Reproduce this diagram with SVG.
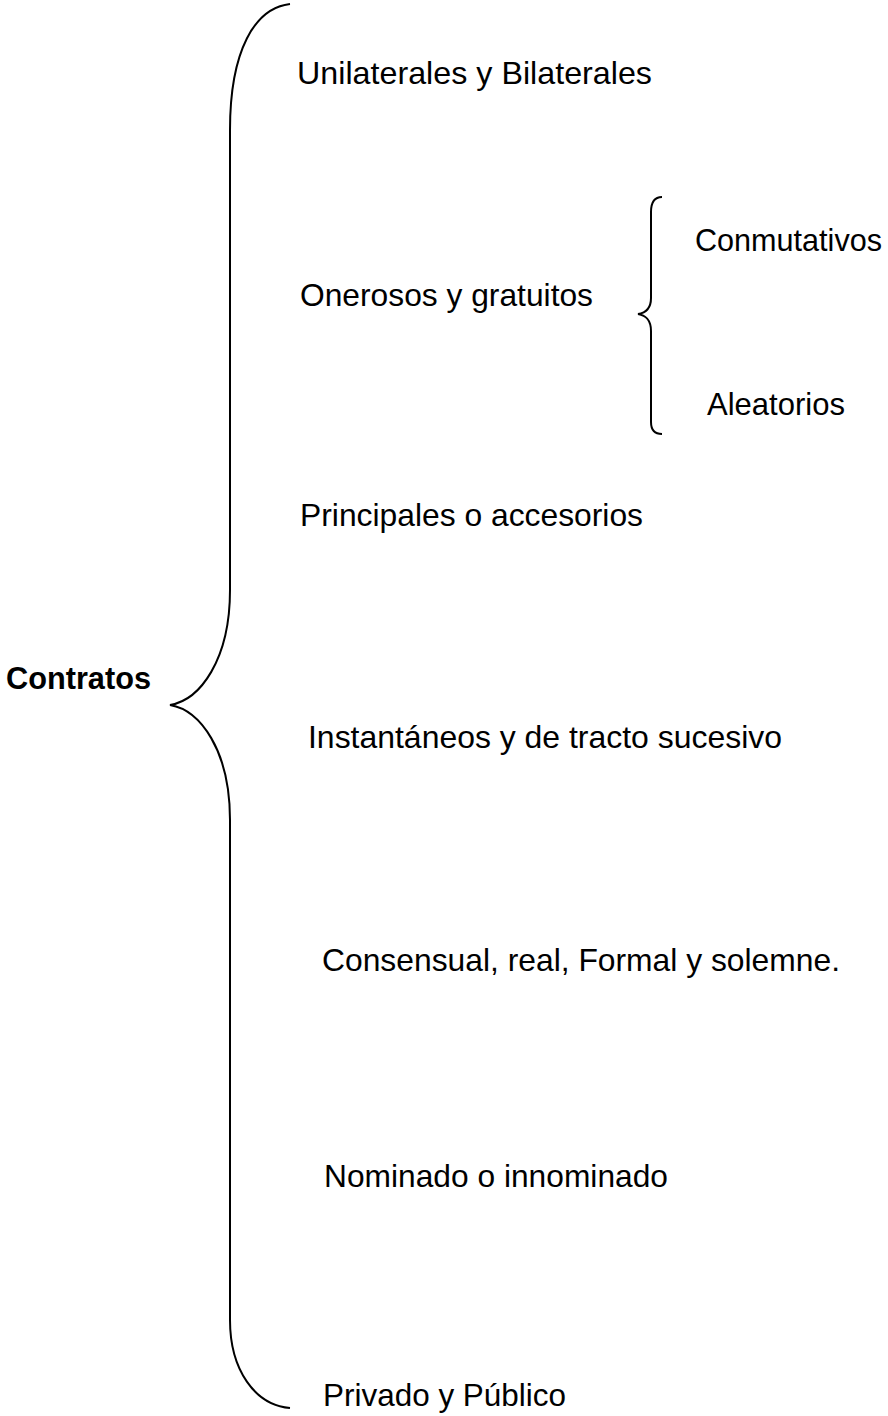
<svg xmlns="http://www.w3.org/2000/svg" width="888" height="1416" viewBox="0 0 888 1416">
<style>
.t{font-family:"Liberation Sans",Arial,sans-serif;font-size:32px;fill:#000}
.b{font-weight:bold;font-size:31px}
.br{fill:none;stroke:#000;stroke-width:2}
</style>
<rect width="888" height="1416" fill="#fff"/>
<g id="connectors">
<path class="br" d="M 290 4 C 255 8, 230 50, 230 130 L 230 590 C 230 660, 200 700, 170 705 C 200 710, 230 750, 230 820 L 230 1320 C 230 1370, 255 1405, 290 1408"/>
<path class="br" d="M 662 197 C 655 197, 651 202, 651 212 L 651 298 C 651 309, 645 313, 638 314 C 645 315, 651 320, 651 331 L 651 422 C 651 431, 655 434, 662 434"/>
</g>
<g id="contratos"><text class="t b" x="6" y="689" textLength="145" lengthAdjust="spacingAndGlyphs">Contratos</text></g>
<g id="unilaterales"><text class="t" x="297" y="84" textLength="355" lengthAdjust="spacingAndGlyphs">Unilaterales y Bilaterales</text></g>
<g id="onerosos"><text class="t" x="300" y="306" textLength="293" lengthAdjust="spacingAndGlyphs">Onerosos y gratuitos</text></g>
<g id="conmutativos"><text class="t" x="695" y="251" textLength="187" lengthAdjust="spacingAndGlyphs">Conmutativos</text></g>
<g id="aleatorios"><text class="t" x="707" y="415" textLength="138" lengthAdjust="spacingAndGlyphs">Aleatorios</text></g>
<g id="principales"><text class="t" x="300" y="526" textLength="343" lengthAdjust="spacingAndGlyphs">Principales o accesorios</text></g>
<g id="instantaneos"><text class="t" x="308" y="748" textLength="474" lengthAdjust="spacingAndGlyphs">Instantáneos y de tracto sucesivo</text></g>
<g id="consensual"><text class="t" x="322" y="971" textLength="518" lengthAdjust="spacingAndGlyphs">Consensual, real, Formal y solemne.</text></g>
<g id="nominado"><text class="t" x="324" y="1187" textLength="344" lengthAdjust="spacingAndGlyphs">Nominado o innominado</text></g>
<g id="privado"><text class="t" x="323" y="1406" textLength="243" lengthAdjust="spacingAndGlyphs">Privado y Público</text></g>
</svg>
